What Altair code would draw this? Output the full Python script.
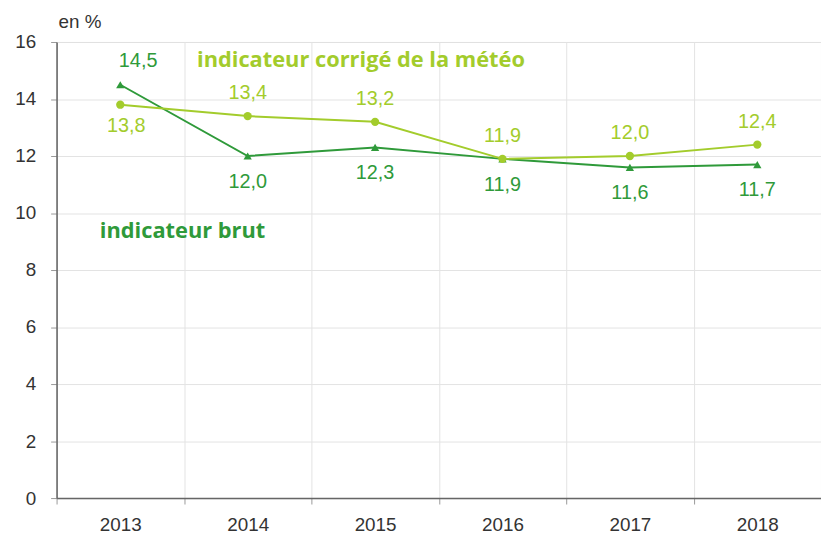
import altair as alt
import pandas as pd

years = ["2013", "2014", "2015", "2016", "2017", "2018"]
brut = [14.5, 12.0, 12.3, 11.9, 11.6, 11.7]
corrige = [13.8, 13.4, 13.2, 11.9, 12.0, 12.4]
brut_above = ["2013"]
corrige_below = ["2013"]

DARK = "#2f9a3a"
LIGHT = "#a3cc2c"
TICKFONT = "Liberation Sans"

df = pd.DataFrame({
    "year": years * 2,
    "value": brut + corrige,
    "series": ["brut"] * 6 + ["corrige"] * 6,
})

xenc = alt.X("year:O", title=None,
             scale=alt.Scale(paddingInner=0, paddingOuter=0),
             axis=alt.Axis(labelAngle=0, tickBand="extent", grid=True, labelFontSize=19,
                           labelColor="#333", labelPadding=12, tickSize=6,
                           domainColor="#666", tickColor="#999", gridColor="#e3e3e3",
                           labelFont=TICKFONT))
yenc = alt.Y("value:Q", title=None,
             scale=alt.Scale(domain=[0, 16]),
             axis=alt.Axis(values=[0, 2, 4, 6, 8, 10, 12, 14, 16], labelFontSize=19,
                           labelColor="#333", tickSize=6, domainColor="#666",
                           tickColor="#999", gridColor="#e3e3e3", labelPadding=15,
                           labelFont=TICKFONT))

base = alt.Chart(df).encode(x=xenc, y=yenc)

color_scale = alt.Scale(domain=["brut", "corrige"], range=[DARK, LIGHT])

lines = base.mark_line(strokeWidth=2).encode(
    color=alt.Color("series:N", scale=color_scale, legend=None))

pts_brut = base.transform_filter("datum.series == 'brut'").mark_point(
    shape="triangle-up", filled=True, size=70, color=DARK, opacity=1)
pts_corr = base.transform_filter("datum.series == 'corrige'").mark_point(
    shape="circle", filled=True, size=70, color=LIGHT, opacity=1)

lab = base.transform_calculate(
    lbl="replace(format(datum.value, '.1f'), '.', ',')")

above_list = "[" + ",".join("'" + y + "'" for y in brut_above) + "]"
below_list = "[" + ",".join("'" + y + "'" for y in corrige_below) + "]"

brut_up = lab.transform_filter(f"datum.series == 'brut' && indexof({above_list}, datum.year) >= 0").mark_text(
    dy=-24, dx=18, fontSize=20, color=DARK, font=TICKFONT).encode(text="lbl:N")
brut_down = lab.transform_filter(f"datum.series == 'brut' && indexof({above_list}, datum.year) < 0").mark_text(
    dy=26, fontSize=20, color=DARK, font=TICKFONT).encode(text="lbl:N")
corr_up = lab.transform_filter(f"datum.series == 'corrige' && indexof({below_list}, datum.year) < 0").mark_text(
    dy=-23, fontSize=20, color=LIGHT, font=TICKFONT).encode(text="lbl:N")
corr_down = lab.transform_filter(f"datum.series == 'corrige' && indexof({below_list}, datum.year) >= 0").mark_text(
    dy=22, dx=6, fontSize=20, color=LIGHT, font=TICKFONT).encode(text="lbl:N")

ann = pd.DataFrame({"t": ["indicateur corrigé de la météo", "indicateur brut"],
                    "c": [LIGHT, DARK]})
ann1 = alt.Chart(ann).transform_filter("datum.c == '%s'" % LIGHT).mark_text(
    fontSize=22, fontWeight="bold", color=LIGHT, font="Open Sans").encode(
    text="t:N", x=alt.value(307), y=alt.value(18))
ann2 = alt.Chart(ann).transform_filter("datum.c == '%s'" % DARK).mark_text(
    fontSize=22, fontWeight="bold", color=DARK, font="Open Sans").encode(
    text="t:N", x=alt.value(127), y=alt.value(191))

unit = alt.Chart(ann).transform_filter("datum.c == '%s'" % DARK).mark_text(
    fontSize=19, color="#333", align="left", font=TICKFONT).encode(
    text=alt.value("en %"), x=alt.value(2), y=alt.value(-20))

chart = alt.layer(lines, pts_brut, pts_corr, brut_up, brut_down, corr_up, corr_down,
                  ann1, ann2, unit).properties(
    width=771, height=460,
    autosize=alt.AutoSizeParams(type="none"),
    padding={"left": 49, "top": 32, "right": 0, "bottom": 40},
).configure_view(stroke="#aaa", strokeWidth=1).configure_axis(domainWidth=1.5)

chart.save("out.html", embed_options={"renderer": "svg", "actions": False})
